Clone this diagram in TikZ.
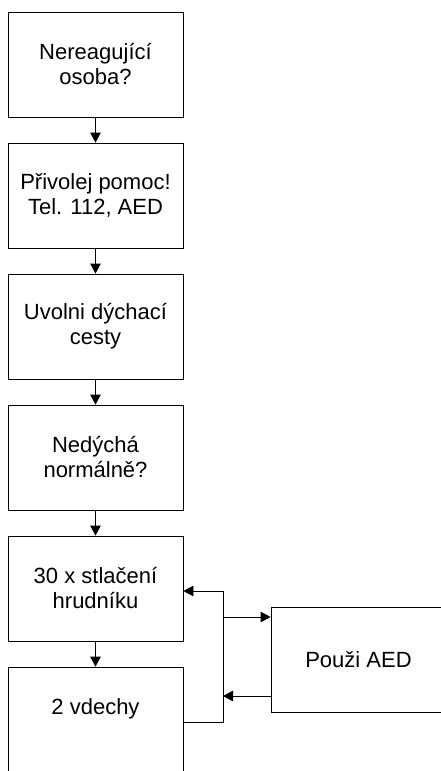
\documentclass[tikz,border=0pt]{standalone}
\usepackage{fontspec}
\setmainfont{Liberation Sans}
\usetikzlibrary{arrows.meta}
\tikzset{krok/.style={draw, rectangle, minimum width=175pt, minimum height=105pt, align=center, inner sep=0pt, font=\fontsize{22}{25}\selectfont}}
\tikzset{popis/.style={font=\fontsize{22}{25}\selectfont, inner sep=0pt}}
\tikzset{sipka/.style={-{Triangle[length=10pt, width=10.5pt]}}}

\begin{document}
\begin{tikzpicture}[x=1pt, y=-1pt, line width=0.8pt]
\clip (0,0) rectangle (441,771);

\node[krok] (a) at (95.5,64.5) {Nereagující\\osoba?};
\node[krok] (b) at (95.5,195.5) {Přivolej pomoc!\\Tel. 112, AED};
\node[krok] (c) at (95.5,326.5) {Uvolni dýchací\\cesty};
\node[krok] (d) at (95.5,457.5) {Nedýchá\\normálně?};
\node[krok] (e) at (95.5,588.5) {30 x stlačení\\hrudníku};
\node[krok] (f) at (95.5,719.5) {};
\node[popis] (ft) at (95.5,709) {2 vdechy};
\node[krok] (g) at (358.5,659.5) {Použi AED};

\coordinate (s1) at (223,722);
\coordinate (s2) at (223,591);
\coordinate (s3) at (223,617);
\coordinate (s4) at (223,696);

\draw[sipka] (a) -- (b);
\draw[sipka] (b) -- (c);
\draw[sipka] (c) -- (d);
\draw[sipka] (d) -- (e);
\draw[sipka] (e) -- (f);

\draw[sipka] (s1 -| f.east) -- (s1) -- (s2) -- (s2 -| e.east);
\draw[sipka] (s3) -- (s3 -| g.west);
\draw[sipka] (s4 -| g.west) -- (s4);

\end{tikzpicture}
\end{document}
